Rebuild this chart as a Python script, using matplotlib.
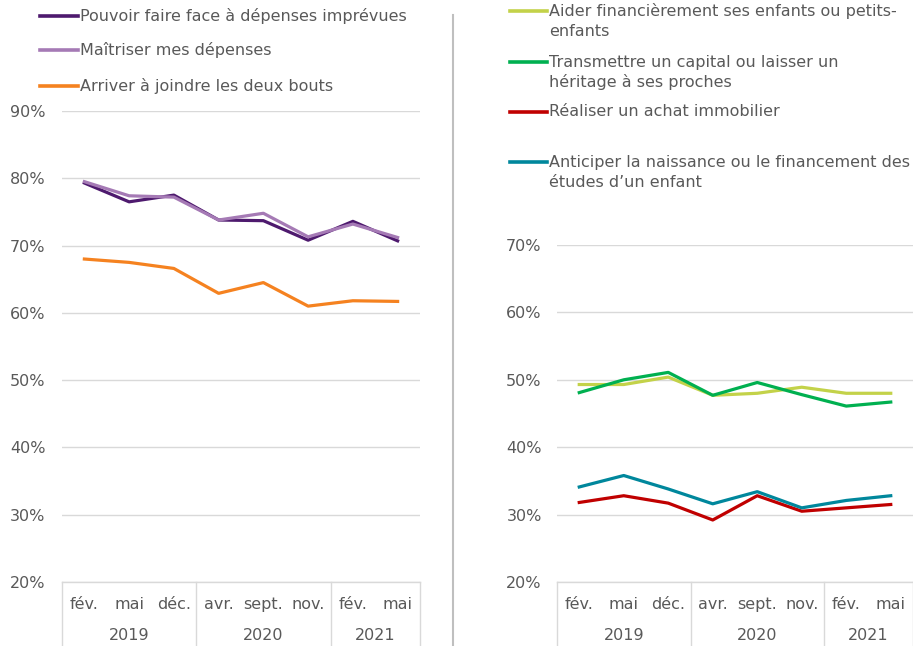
import matplotlib
matplotlib.use("Agg")
import matplotlib.pyplot as plt
import matplotlib.transforms as mtransforms
from matplotlib.lines import Line2D

# ---------------- data ----------------
months = ["fév.", "mai", "déc.", "avr.", "sept.", "nov.", "fév.", "mai"]
years = ["2019", "2020", "2021"]
year_spans = [(0, 2), (3, 5), (6, 7)]

left_labels = ["Pouvoir faire face à dépenses imprévues",
               "Maîtriser mes dépenses",
               "Arriver à joindre les deux bouts"]
pouvoir = [79.3, 76.5, 77.5, 73.8, 73.7, 70.8, 73.6, 70.7]
maitriser = [79.5, 77.4, 77.2, 73.8, 74.8, 71.3, 73.2, 71.2]
joindre = [68.0, 67.5, 66.6, 62.9, 64.5, 61.0, 61.8, 61.7]

right_labels = [["Aider financièrement ses enfants ou petits-", "enfants"],
                ["Transmettre un capital ou laisser un", "héritage à ses proches"],
                ["Réaliser un achat immobilier"],
                ["Anticiper la naissance ou le financement des", "études d’un enfant"]]
aider = [49.3, 49.3, 50.4, 47.7, 48.0, 48.9, 48.0, 48.0]
transmettre = [48.1, 50.0, 51.1, 47.7, 49.6, 47.8, 46.1, 46.7]
immobilier = [31.8, 32.8, 31.7, 29.2, 32.8, 30.5, 31.0, 31.5]
anticiper = [34.1, 35.8, 33.8, 31.6, 33.4, 31.0, 32.1, 32.8]

left_yticks = [20, 30, 40, 50, 60, 70, 80, 90]
right_yticks = [20, 30, 40, 50, 60, 70]

c_dark = "#4E1A6E"
c_light = "#A57AB5"
c_orange = "#F58220"
c_yg = "#C3D249"
c_green = "#00B050"
c_red = "#C00000"
c_teal = "#00879C"
txt = "#595959"
gridc = "#D9D9D9"

W, H = 913, 646
fig = plt.figure(figsize=(W / 100, H / 100), dpi=100)
FS = 11.5


def px(x0, y_top, x1, y_bot):
    return [x0 / W, 1 - y_bot / H, (x1 - x0) / W, (y_bot - y_top) / H]


def setup(ax, ymin, ymax, yticks, ytick_pad, h_px):
    ax.set_xlim(-0.5, 7.5)
    ax.set_ylim(ymin, ymax)
    for s in ["top", "left", "right"]:
        ax.spines[s].set_visible(False)
    ax.spines["bottom"].set_color(gridc)
    ax.spines["bottom"].set_linewidth(1)
    ax.set_yticks(yticks)
    ax.set_yticklabels([f"{v}%" for v in yticks])
    ax.yaxis.grid(True, color=gridc, linewidth=1)
    ax.set_axisbelow(True)
    ax.set_xticks(range(len(months)))
    ax.set_xticklabels(months)
    ax.tick_params(axis="both", length=0, colors=txt, labelsize=FS)
    ax.tick_params(axis="y", pad=ytick_pad)
    ax.tick_params(axis="x", pad=10.5)
    trans = mtransforms.blended_transform_factory(ax.transData, ax.transAxes)
    ext = 64 / h_px
    for xs in [-0.5, 2.5, 5.5, 7.5]:
        ax.plot([xs, xs], [0, -ext], transform=trans, color=gridc, lw=1, clip_on=False)
    for yr, (a, b) in zip(years, year_spans):
        ax.text((a + b) / 2, -54 / h_px, yr, transform=trans, ha="center", va="center",
                color=txt, fontsize=FS)


x = list(range(len(months)))

# left panel
axL = fig.add_axes(px(62, 111, 420, 582))
setup(axL, 20, 90, left_yticks, 12, 471)
axL.plot(x, pouvoir, color=c_dark, lw=2.3)
axL.plot(x, maitriser, color=c_light, lw=2.3)
axL.plot(x, joindre, color=c_orange, lw=2.3)

# right panel
axR = fig.add_axes(px(557, 245, 913, 582))
setup(axR, 20, 70, right_yticks, 11, 337)
axR.plot(x, aider, color=c_yg, lw=2.3)
axR.plot(x, transmettre, color=c_green, lw=2.3)
axR.plot(x, immobilier, color=c_red, lw=2.3)
axR.plot(x, anticiper, color=c_teal, lw=2.3)

# legends (manual)
def legend_entry(x0, x1, y, color, lines, tx):
    fig.add_artist(Line2D([x0 / W, x1 / W], [1 - y / H, 1 - y / H], color=color, lw=2.6,
                          transform=fig.transFigure))
    for i, t in enumerate(lines):
        fig.text(tx / W, 1 - (y + i * 20.5) / H, t, ha="left", va="center",
                 color=txt, fontsize=FS)

for lab, col, yy in zip(left_labels, [c_dark, c_light, c_orange], [16, 50, 86]):
    legend_entry(40, 78, yy, col, [lab], 80)

for lab, col, yy in zip(right_labels, [c_yg, c_green, c_red, c_teal], [11, 62, 112, 162]):
    legend_entry(510, 547, yy, col, lab, 549)

# central separator
fig.add_artist(Line2D([453 / W, 453 / W], [1 - 15 / H, 0], color="#BFBFBF", lw=1.5,
                      transform=fig.transFigure))

fig.savefig("out.png", dpi=100, facecolor="white")
